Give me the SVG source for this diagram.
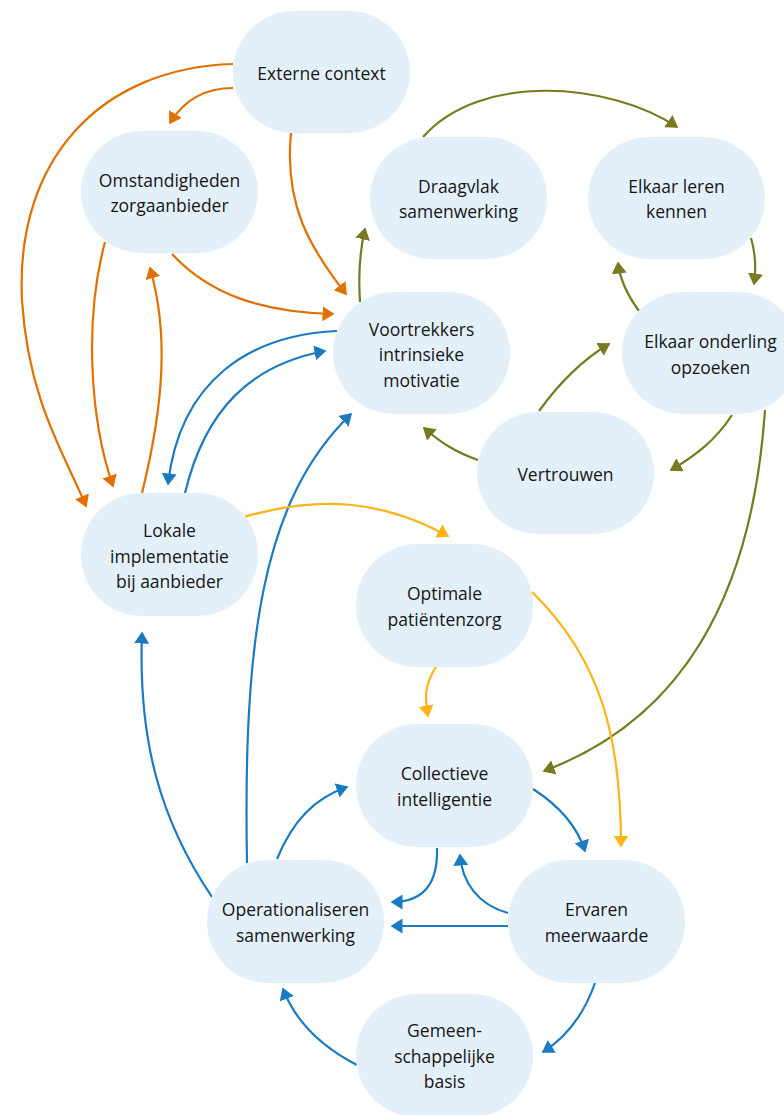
<svg xmlns="http://www.w3.org/2000/svg" width="784" height="1115" viewBox="0 0 784 1115">
<style>
.n rect{fill:#e4f0f9}
.n text{font-family:"Open Sans","Noto Sans",sans-serif;font-size:17.5px;fill:#161616;text-anchor:middle}
.e path{fill:none;stroke-width:2.2}
.o{stroke:#e17000}
.b{stroke:#1a7bc2}
.g{stroke:#757b1f}
.y{stroke:#fbb316}
</style>
<defs>
<marker id="mo" markerUnits="userSpaceOnUse" markerWidth="16" markerHeight="16" refX="10.5" refY="7.5" orient="auto"><path d="M0,0 L12,7.5 L0,15 z" fill="#e17000"/></marker>
<marker id="mb" markerUnits="userSpaceOnUse" markerWidth="16" markerHeight="16" refX="10.5" refY="7.5" orient="auto"><path d="M0,0 L12,7.5 L0,15 z" fill="#1a7bc2"/></marker>
<marker id="mg" markerUnits="userSpaceOnUse" markerWidth="16" markerHeight="16" refX="10.5" refY="7.5" orient="auto"><path d="M0,0 L12,7.5 L0,15 z" fill="#757b1f"/></marker>
<marker id="my" markerUnits="userSpaceOnUse" markerWidth="16" markerHeight="16" refX="10.5" refY="7.5" orient="auto"><path d="M0,0 L12,7.5 L0,15 z" fill="#fbb316"/></marker>
</defs>
<rect width="784" height="1115" fill="#fff"/>
<g id="connectors" class="e">
<path class="o" marker-end="url(#mo)" d="M233,64 C100,68 15,160 22,300 C28,400 65,455 86,506"/>
<path class="o" marker-end="url(#mo)" d="M233,88 C205,88 184,100 170,123"/>
<path class="o" marker-end="url(#mo)" d="M291,133 C284,205 310,248 346,294"/>
<path class="o" marker-end="url(#mo)" d="M172,254 C210,295 262,312 333,314"/>
<path class="o" marker-end="url(#mo)" d="M105,242 C84,320 90,420 113,486"/>
<path class="o" marker-end="url(#mo)" d="M142,493 C165,400 168,330 150,268"/>
<path class="b" marker-end="url(#mb)" d="M337,331 C250,335 180,380 168,484"/>
<path class="b" marker-end="url(#mb)" d="M185,493 C205,410 250,365 325,351"/>
<path class="b" marker-end="url(#mb)" d="M247,863 C243,640 262,500 351,414"/>
<path class="b" marker-end="url(#mb)" d="M212,897 C160,820 138,740 142,633"/>
<path class="b" marker-end="url(#mb)" d="M277,859 C293,820 315,798 347,787"/>
<path class="b" marker-end="url(#mb)" d="M437,848 C438,882 425,902 392,902"/>
<path class="b" marker-end="url(#mb)" d="M508,913 C478,905 462,882 460,855"/>
<path class="b" marker-end="url(#mb)" d="M508,926 L392,926"/>
<path class="b" marker-end="url(#mb)" d="M533,789 C558,805 577,826 585,851"/>
<path class="b" marker-end="url(#mb)" d="M595,983 C582,1020 562,1040 543,1052"/>
<path class="b" marker-end="url(#mb)" d="M357,1065 C318,1045 295,1020 283,989"/>
<path class="g" marker-end="url(#mg)" d="M423,137 C480,72 610,82 677,127"/>
<path class="g" marker-end="url(#mg)" d="M360,302 C358,272 360,250 365,229"/>
<path class="g" marker-end="url(#mg)" d="M751,238 C756,255 756,270 754,284"/>
<path class="g" marker-end="url(#mg)" d="M639,311 C628,296 620,280 618,263"/>
<path class="g" marker-end="url(#mg)" d="M539,411 C560,382 582,360 609,344"/>
<path class="g" marker-end="url(#mg)" d="M732,415 C716,440 695,456 671,470"/>
<path class="g" marker-end="url(#mg)" d="M478,460 C455,452 440,442 424,428"/>
<path class="g" marker-end="url(#mg)" d="M765,410 C752,600 680,720 544,771"/>
<path class="y" marker-end="url(#my)" d="M244,517 C320,495 382,500 448,536"/>
<path class="y" marker-end="url(#my)" d="M436,667 C424,685 425,700 428,716"/>
<path class="y" marker-end="url(#my)" d="M532,592 C602,660 621,740 621,846"/>
</g>
<g id="n-externe" class="n"><rect x="233" y="11" width="177" height="122" rx="61"/><text x="321.5" y="80">Externe context</text></g>
<g id="n-omstandigheden" class="n"><rect x="81" y="131" width="177" height="122" rx="61"/><text x="169.5" y="187">Omstandigheden</text><text x="169.5" y="212">zorgaanbieder</text></g>
<g id="n-draagvlak" class="n"><rect x="370" y="137" width="177" height="122" rx="61"/><text x="458.5" y="193">Draagvlak</text><text x="458.5" y="218">samenwerking</text></g>
<g id="n-leren" class="n"><rect x="588" y="137" width="177" height="122" rx="61"/><text x="676.5" y="193">Elkaar leren</text><text x="676.5" y="218">kennen</text></g>
<g id="n-voortrekkers" class="n"><rect x="333" y="292" width="177" height="122" rx="61"/><text x="421.5" y="336">Voortrekkers</text><text x="421.5" y="361">intrinsieke</text><text x="421.5" y="387">motivatie</text></g>
<g id="n-onderling" class="n"><rect x="622" y="292" width="177" height="122" rx="61"/><text x="710.5" y="348">Elkaar onderling</text><text x="710.5" y="374">opzoeken</text></g>
<g id="n-vertrouwen" class="n"><rect x="477" y="412" width="177" height="122" rx="61"/><text x="565.5" y="481">Vertrouwen</text></g>
<g id="n-lokale" class="n"><rect x="81" y="493" width="177" height="123" rx="61"/><text x="169.5" y="537">Lokale</text><text x="169.5" y="563">implementatie</text><text x="169.5" y="588">bij aanbieder</text></g>
<g id="n-optimale" class="n"><rect x="356" y="544" width="177" height="123" rx="61"/><text x="444.5" y="600">Optimale</text><text x="444.5" y="626">patiëntenzorg</text></g>
<g id="n-collectieve" class="n"><rect x="356" y="724" width="177" height="123" rx="61"/><text x="444.5" y="780">Collectieve</text><text x="444.5" y="806">intelligentie</text></g>
<g id="n-operationaliseren" class="n"><rect x="207" y="860" width="177" height="123" rx="61"/><text x="295.5" y="916">Operationaliseren</text><text x="295.5" y="942">samenwerking</text></g>
<g id="n-ervaren" class="n"><rect x="508" y="860" width="177" height="123" rx="61"/><text x="596.5" y="916">Ervaren</text><text x="596.5" y="942">meerwaarde</text></g>
<g id="n-gemeenschappelijke" class="n"><rect x="356" y="994" width="177" height="123" rx="61"/><text x="444.5" y="1037">Gemeen-</text><text x="444.5" y="1063">schappelijke</text><text x="444.5" y="1088">basis</text></g>
</svg>
